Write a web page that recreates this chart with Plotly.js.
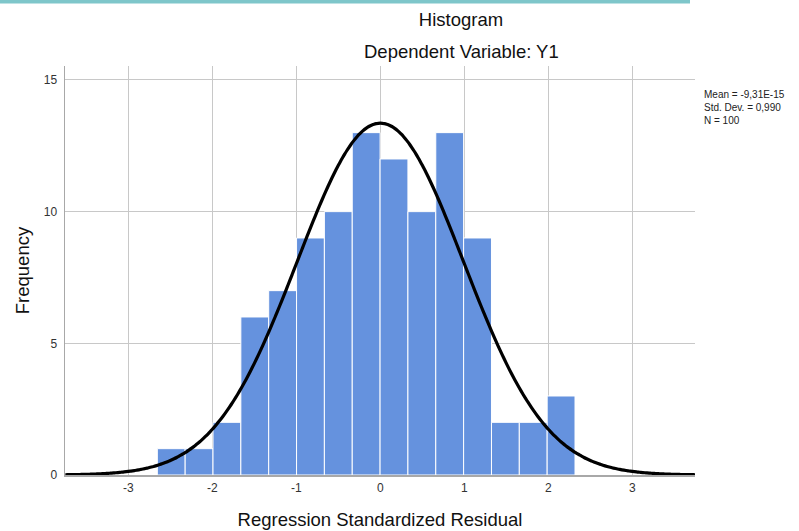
<!DOCTYPE html>
<html>
<head>
<meta charset="utf-8">
<script src="https://cdn.plot.ly/plotly-3.0.1.min.js"></script>
<style>html,body{margin:0;padding:0;background:#fff;}#chart{width:799px;height:531px;}</style>
</head>
<body>
<div id="chart"></div>
<script>
// ---- data ----
const binStart = -2.655;      // left edge of first bin
const binWidth = 0.3315;      // bin width
const counts = [1, 1, 2, 6, 7, 9, 10, 13, 12, 10, 13, 9, 2, 2, 3];
const statMean = -9.31e-15;
const statSD = 0.990;
const statN = 100;
const xTickVals = [-3, -2, -1, 0, 1, 2, 3];
const yTickVals = [0, 5, 10, 15];
const statLines = ["Mean = -9,31E-15", "Std. Dev. = 0,990", "N = 100"];

// bin centres from the bin edges
const binCenters = counts.map((c, i) => binStart + binWidth * (i + 0.5));

// fitted normal curve from the stated mean / sd / N
const xMin = -3.75, xMax = 3.75;
const curveX = [], curveY = [];
for (let k = 0; k <= 300; k++) {
  const x = xMin + (xMax - xMin) * k / 300;
  const z = (x - statMean) / statSD;
  curveX.push(x);
  curveY.push(statN * binWidth * Math.exp(-0.5 * z * z) / (statSD * Math.sqrt(2 * Math.PI)));
}

const FONT = "Liberation Sans, Arial, sans-serif";

const traces = [
  {
    type: "bar",
    x: binCenters,
    y: counts,
    width: binWidth,
    marker: { color: "#6592de", line: { color: "#ffffff", width: 1 } },
    hoverinfo: "x+y",
    showlegend: false
  },
  {
    type: "scatter",
    mode: "lines",
    x: curveX,
    y: curveY,
    line: { color: "#000000", width: 3.2, shape: "spline" },
    hoverinfo: "skip",
    showlegend: false
  }
];

const layout = {
  width: 799, height: 531,
  margin: { l: 65, r: 104, t: 66, b: 56 },
  paper_bgcolor: "#ffffff",
  plot_bgcolor: "#ffffff",
  font: { family: FONT, color: "#222" },
  bargap: 0,
  title: {
    text: "Histogram",
    xref: "paper", x: 0.6286, xanchor: "center",
    yref: "container", y: 1 - 19.5 / 531, yanchor: "middle",
    font: { family: FONT, size: 18.5, color: "#111" }
  },
  xaxis: {
    range: [-3.754, 3.746],
    tickvals: xTickVals,
    ticktext: xTickVals.map(String),
    showgrid: true, gridcolor: "#c8c8c8", gridwidth: 1,
    zeroline: false,
    showline: true, linecolor: "#a8a8a8", linewidth: 1.5,
    ticks: "", ticklabelstandoff: 1,
    tickfont: { family: FONT, size: 12, color: "#333" },
    title: { text: "Regression Standardized Residual", standoff: 19,
             font: { family: FONT, size: 18.5, color: "#111" } },
    automargin: false, fixedrange: true
  },
  yaxis: {
    range: [0, 15.53],
    tickvals: yTickVals,
    showgrid: true, gridcolor: "#c8c8c8", gridwidth: 1,
    zeroline: false,
    showline: true, linecolor: "#a8a8a8", linewidth: 1.5,
    ticks: "", ticklabelstandoff: 4,
    tickfont: { family: FONT, size: 12, color: "#333" },
    title: { text: "Frequency", standoff: 9,
             font: { family: FONT, size: 18.5, color: "#111" } },
    automargin: false, fixedrange: true
  },
  annotations: [
    {
      text: "Dependent Variable: Y1", xref: "paper", yref: "paper",
      x: 0.6286, y: (475 - 51.5) / 409, xanchor: "center", yanchor: "middle",
      showarrow: false, font: { family: FONT, size: 18.5, color: "#111" }
    },
    {
      text: statLines.join("<br>"), xref: "paper", yref: "paper",
      x: 1.0127, y: (475 - 88) / 409, xanchor: "left", yanchor: "top",
      align: "left", showarrow: false, borderpad: 0,
      font: { family: FONT, size: 10, color: "#222" }
    }
  ],
  shapes: [
    {
      type: "rect", xref: "paper", yref: "paper",
      x0: -65 / 630, x1: (690 - 65) / 630,
      y0: (475 - 3.5) / 409, y1: 475 / 409 + 0.01,
      fillcolor: "#7ec6ca", line: { width: 0 }, layer: "above"
    }
  ]
};

Plotly.newPlot("chart", traces, layout, { displayModeBar: false, staticPlot: true });
</script>
</body>
</html>
